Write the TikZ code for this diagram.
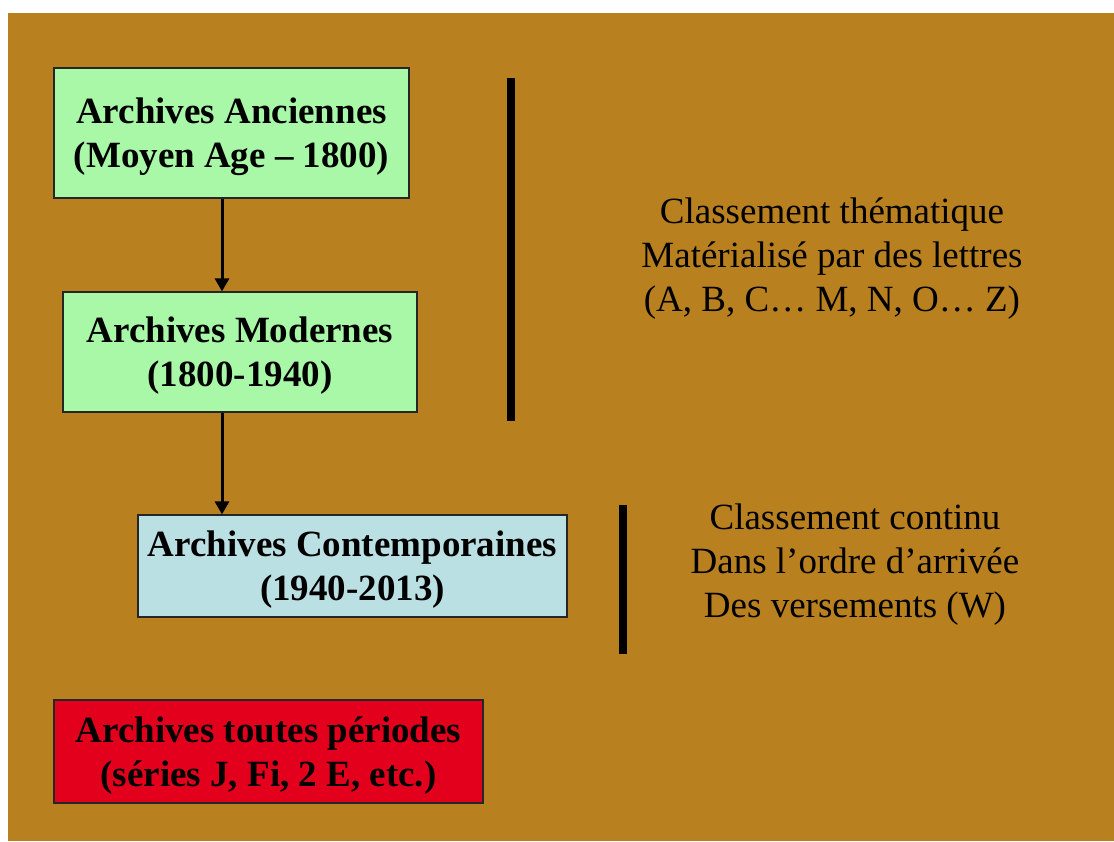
\documentclass[tikz,border=0pt]{standalone}
\usepackage{fontspec}
\setmainfont{Liberation Serif}
\usepackage{tikz}
\usetikzlibrary{positioning, calc, arrows.meta}
\definecolor{fond}{RGB}{184,128,30}
\definecolor{vert}{RGB}{168,248,168}
\definecolor{bleu}{RGB}{186,224,228}
\definecolor{rouge}{RGB}{226,0,28}
\begin{document}
\begin{tikzpicture}[x=1pt,y=-1pt,
    boite/.style={draw=black!85,line width=1.2pt,align=center,inner sep=0pt,text depth=0pt,
        font=\fontsize{37}{44}\selectfont\bfseries},
    fleche/.style={-{Triangle[length=13pt,width=14pt]},line width=3pt},
    barre/.style={line width=8pt},
    texte/.style={align=center,font=\fontsize{37}{44}\selectfont}]
    % background
    \useasboundingbox (0,0) rectangle (1114,841);
    \fill[white] (0,0) rectangle (1114,841);
    \fill[fond] (8,13) rectangle (1114,841);

    % boxes
    \node[boite,fill=vert,minimum width=355pt,minimum height=130pt] (anc) at (231.5,133) {Archives Anciennes\\(Moyen Age -- 1800)};
    \node[boite,fill=vert,minimum width=354pt,minimum height=120pt] (mod) at (240,352) {Archives Modernes\\(1800-1940)};
    \node[boite,fill=bleu,minimum width=429pt,minimum height=102pt] (cont) at (352.5,566) {Archives Contemporaines\\(1940-2013)};
    \node[boite,fill=rouge,minimum width=429pt,minimum height=103pt] (tout) at (268.5,751.5) {Archives toutes périodes\\(séries J, Fi, 2 E, etc.)};

    % arrows
    \coordinate (ax) at (222,0);
    \draw[fleche] (anc.south -| ax) -- (mod.north -| ax);
    \draw[fleche] (mod.south -| ax) -- (cont.north -| ax);

    % bars
    \draw[barre] (510.5,78) -- (510.5,421);
    \draw[barre] (623,505) -- (623,654);

    % notes
    \node[texte] (theme) at (832,259) {Classement thématique\\Matérialisé par des lettres\\(A, B, C… M, N, O… Z)};
    \node[texte] (continu) at (855,565) {Classement continu\\Dans l’ordre d’arrivée\\Des versements (W)};
\end{tikzpicture}
\end{document}
